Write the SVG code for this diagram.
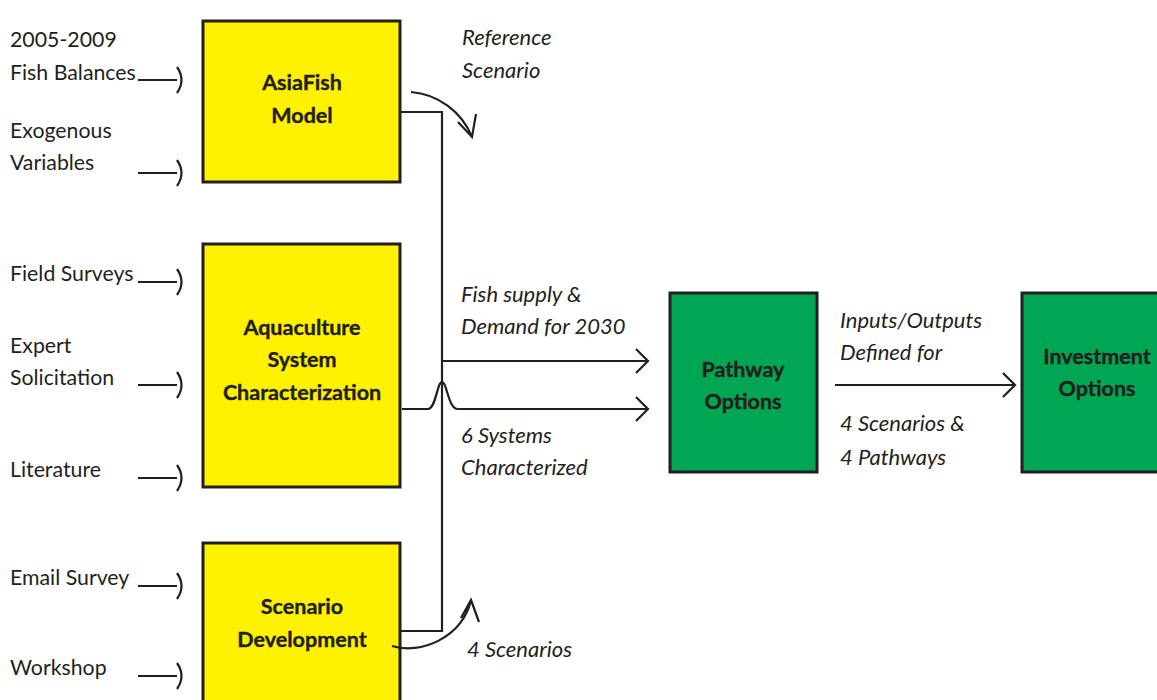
<svg xmlns="http://www.w3.org/2000/svg" width="1157" height="700" viewBox="0 0 1157 700">
<style>
.box{stroke:#231f20;stroke-width:3}
.y{fill:#fff200}
.g{fill:#00a651}
.bt{font-family:Lato,"Liberation Sans",sans-serif;font-weight:bold;font-size:21.5px;fill:#231f20;text-anchor:middle;stroke:#231f20;stroke-width:0.4}
.lt{font-family:Lato,"Liberation Sans",sans-serif;font-size:21.3px;fill:#231f20}
.it{font-family:Lato,"Liberation Sans",sans-serif;font-style:italic;font-size:22px;fill:#231f20}
.ln{fill:none;stroke:#231f20;stroke-width:2.2}
</style>
<rect width="1157" height="700" fill="#ffffff"/>
<g id="node-asiafish">
<rect class="box y" x="203" y="21" width="197" height="161"/>
<text class="bt" x="302" y="90">AsiaFish</text>
<text class="bt" x="302" y="123">Model</text>
</g>
<g id="node-aquaculture">
<rect class="box y" x="203" y="244" width="197" height="243"/>
<text class="bt" x="302" y="335">Aquaculture</text>
<text class="bt" x="302" y="367">System</text>
<text class="bt" x="302" y="400">Characterization</text>
</g>
<g id="node-scenario">
<rect class="box y" x="203" y="543" width="197" height="170"/>
<text class="bt" x="302" y="614">Scenario</text>
<text class="bt" x="302" y="647">Development</text>
</g>
<g id="node-pathway">
<rect class="box g" x="670" y="293" width="147" height="179"/>
<text class="bt" x="743" y="377">Pathway</text>
<text class="bt" x="743" y="409">Options</text>
</g>
<g id="node-investment">
<rect class="box g" x="1022" y="293" width="150" height="179"/>
<text class="bt" x="1097" y="364">Investment</text>
<text class="bt" x="1097" y="396">Options</text>
</g>
<g id="inputs">
<text class="lt" x="10" y="47">2005-2009</text>
<text class="lt" x="10" y="80">Fish Balances</text>
<text class="lt" x="10" y="138">Exogenous</text>
<text class="lt" x="10" y="170">Variables</text>
<text class="lt" x="10" y="281">Field Surveys</text>
<text class="lt" x="10" y="353">Expert</text>
<text class="lt" x="10" y="385">Solicitation</text>
<text class="lt" x="10" y="477">Literature</text>
<text class="lt" x="10" y="585">Email Survey</text>
<text class="lt" x="10" y="675">Workshop</text>
</g>
<g id="labels">
<text class="it" x="462" y="45">Reference</text>
<text class="it" x="462" y="78">Scenario</text>
<text class="it" x="461" y="302">Fish supply &amp;</text>
<text class="it" x="461" y="334">Demand for 2030</text>
<text class="it" x="461" y="443">6 Systems</text>
<text class="it" x="461" y="475">Characterized</text>
<text class="it" x="467" y="657">4 Scenarios</text>
<text class="it" x="840" y="328">Inputs/Outputs</text>
<text class="it" x="840" y="360">Defined for</text>
<text class="it" x="840" y="431">4 Scenarios &amp;</text>
<text class="it" x="840" y="465">4 Pathways</text>
</g>
<g id="connectors">
<path class="ln" d="M138 80 H177 M177 67 Q186 80 177 93"/>
<path class="ln" d="M138 173 H177 M177 160 Q186 173 177 186"/>
<path class="ln" d="M138 282 H177 M177 269 Q186 282 177 295"/>
<path class="ln" d="M138 385 H177 M177 372 Q186 385 177 398"/>
<path class="ln" d="M138 478 H177 M177 465 Q186 478 177 491"/>
<path class="ln" d="M138 586 H177 M177 573 Q186 586 177 599"/>
<path class="ln" d="M138 676 H177 M177 663 Q186 676 177 689"/>
<path class="ln" d="M400 112 H442 V631 H400"/>
<path class="ln" d="M442 361 H648 M636 349 L648 361 L636 373"/>
<path class="ln" d="M402 409 H428 C436 409 437 382 442 382 C447 382 448 409 458 409 H648 M636 397 L648 409 L636 421"/>
<path class="ln" d="M411 92 C438 94 462 112 472 137 M458 122 L472 137 L476 114"/>
<path class="ln" d="M392 646 C420 655 462 638 471 600 M461 618 L471 600 L479 622"/>
<path class="ln" d="M835 385 H1015 M1003 373 L1015 385 L1003 397"/>
</g>
</svg>
